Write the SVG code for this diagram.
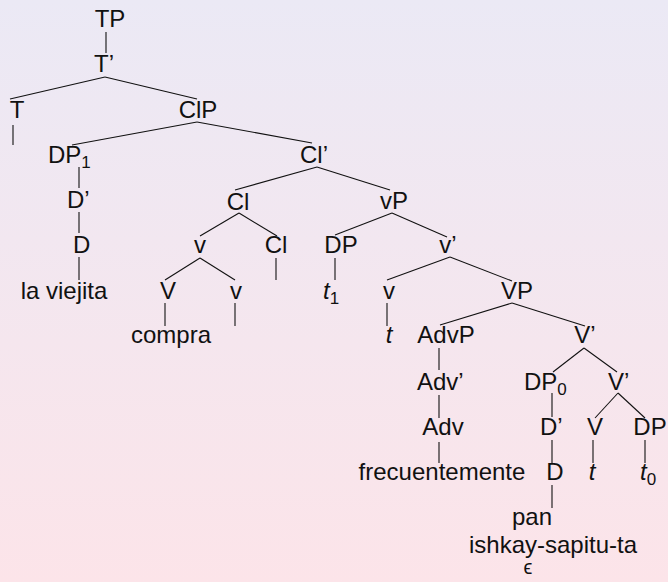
<svg xmlns="http://www.w3.org/2000/svg" width="668" height="582" viewBox="0 0 668 582">
<defs>
<linearGradient id="bg" x1="0" y1="0" x2="0" y2="1">
<stop offset="0" stop-color="#ebe9f5"/>
<stop offset="1" stop-color="#fce4e9"/>
</linearGradient>
<style>
text{font-family:"Liberation Sans","DejaVu Sans",sans-serif;font-size:24px;fill:#111}
.m{text-anchor:middle}
.i{font-style:italic}
.s{font-size:17px;font-style:normal}
#edges line{stroke:#111;stroke-width:1.1}
</style>
</defs>
<rect width="668" height="582" fill="url(#bg)"/>
<g id="edges">
<line x1="106" y1="32" x2="106" y2="53"/>
<line x1="105" y1="77" x2="10" y2="99"/>
<line x1="105" y1="77" x2="197" y2="99"/>
<line x1="13" y1="125" x2="13" y2="145"/>
<line x1="197" y1="122" x2="72" y2="145"/>
<line x1="197" y1="122" x2="312" y2="143"/>
<line x1="79" y1="167" x2="79" y2="188"/>
<line x1="79" y1="212" x2="79" y2="233"/>
<line x1="79" y1="257" x2="79" y2="280"/>
<line x1="317" y1="167" x2="235" y2="190"/>
<line x1="317" y1="167" x2="390" y2="190"/>
<line x1="239" y1="213" x2="200" y2="236"/>
<line x1="239" y1="213" x2="277" y2="236"/>
<line x1="200" y1="258" x2="165" y2="280"/>
<line x1="200" y1="258" x2="235" y2="280"/>
<line x1="276" y1="258" x2="276" y2="280"/>
<line x1="165" y1="303" x2="165" y2="326"/>
<line x1="235" y1="303" x2="235" y2="326"/>
<line x1="392" y1="213" x2="335" y2="235"/>
<line x1="392" y1="213" x2="447" y2="237"/>
<line x1="335" y1="258" x2="335" y2="280"/>
<line x1="450" y1="257" x2="387" y2="280"/>
<line x1="450" y1="257" x2="512" y2="281"/>
<line x1="387" y1="303" x2="387" y2="326"/>
<line x1="512" y1="303" x2="440" y2="325"/>
<line x1="512" y1="303" x2="585" y2="326"/>
<line x1="439" y1="348" x2="439" y2="370"/>
<line x1="584" y1="348" x2="553" y2="372"/>
<line x1="584" y1="348" x2="617" y2="372"/>
<line x1="439" y1="395" x2="439" y2="418"/>
<line x1="552" y1="393" x2="552" y2="417"/>
<line x1="618" y1="393" x2="595" y2="418"/>
<line x1="618" y1="393" x2="645" y2="418"/>
<line x1="439" y1="442" x2="439" y2="463"/>
<line x1="552" y1="440" x2="552" y2="463"/>
<line x1="593" y1="440" x2="593" y2="463"/>
<line x1="645" y1="440" x2="645" y2="463"/>
<line x1="552" y1="485" x2="552" y2="508"/>
</g>
<g id="n-TP"><text class="m" x="110" y="27">TP</text></g>
<g id="n-Tbar"><text class="m" x="104" y="72">T’</text></g>
<g id="n-T"><text class="m" x="17" y="118">T</text></g>
<g id="n-ClP"><text class="m" x="198" y="118">ClP</text></g>
<g id="n-DP1"><text x="48" y="163">DP<tspan class="s" dy="5">1</tspan></text></g>
<g id="n-Clbar"><text x="300" y="163">Cl’</text></g>
<g id="n-Dbar1"><text x="67" y="208">D’</text></g>
<g id="n-D1"><text x="73" y="253">D</text></g>
<g id="n-laviejita"><text class="m" x="64" y="299">la viejita</text></g>
<g id="n-Cl"><text class="m" x="238" y="210">Cl</text></g>
<g id="n-v1"><text class="m" x="200" y="253">v</text></g>
<g id="n-Cl2"><text class="m" x="276" y="253">Cl</text></g>
<g id="n-V1"><text class="m" x="168" y="299">V</text></g>
<g id="n-v2"><text class="m" x="236" y="299">v</text></g>
<g id="n-compra"><text class="m" x="171" y="343">compra</text></g>
<g id="n-vP"><text class="m" x="394" y="209">vP</text></g>
<g id="n-DP2"><text class="m" x="341" y="253">DP</text></g>
<g id="n-t1"><text class="i" x="323" y="299">t<tspan class="s" dy="5">1</tspan></text></g>
<g id="n-vbar"><text class="m" x="448" y="253">v’</text></g>
<g id="n-v3"><text class="m" x="389" y="299">v</text></g>
<g id="n-VP"><text class="m" x="517" y="299">VP</text></g>
<g id="n-t2"><text class="m i" x="389" y="343">t</text></g>
<g id="n-AdvP"><text class="m" x="446" y="343">AdvP</text></g>
<g id="n-Vbar1"><text class="m" x="585" y="343">V’</text></g>
<g id="n-Advbar"><text x="417" y="390">Adv’</text></g>
<g id="n-DP0"><text x="524" y="390">DP<tspan class="s" dy="5">0</tspan></text></g>
<g id="n-Vbar2"><text x="608" y="390">V’</text></g>
<g id="n-Adv"><text class="m" x="443" y="435">Adv</text></g>
<g id="n-Dbar2"><text x="540" y="435">D’</text></g>
<g id="n-V2"><text class="m" x="595" y="435">V</text></g>
<g id="n-DP3"><text class="m" x="650" y="435">DP</text></g>
<g id="n-frecuentemente"><text class="m" x="442" y="480">frecuentemente</text></g>
<g id="n-D2"><text class="m" x="555" y="480">D</text></g>
<g id="n-t3"><text class="m i" x="592" y="480">t</text></g>
<g id="n-t0"><text class="i" x="640" y="480">t<tspan class="s" dy="5">0</tspan></text></g>
<g id="n-pan"><text class="m" x="532" y="525">pan</text></g>
<g id="n-ishkay"><text class="m" x="553" y="553">ishkay-sapitu-ta</text></g>
<g id="n-eps"><text class="m" x="528" y="574" style="font-size:20px">ϵ</text></g>
</svg>
